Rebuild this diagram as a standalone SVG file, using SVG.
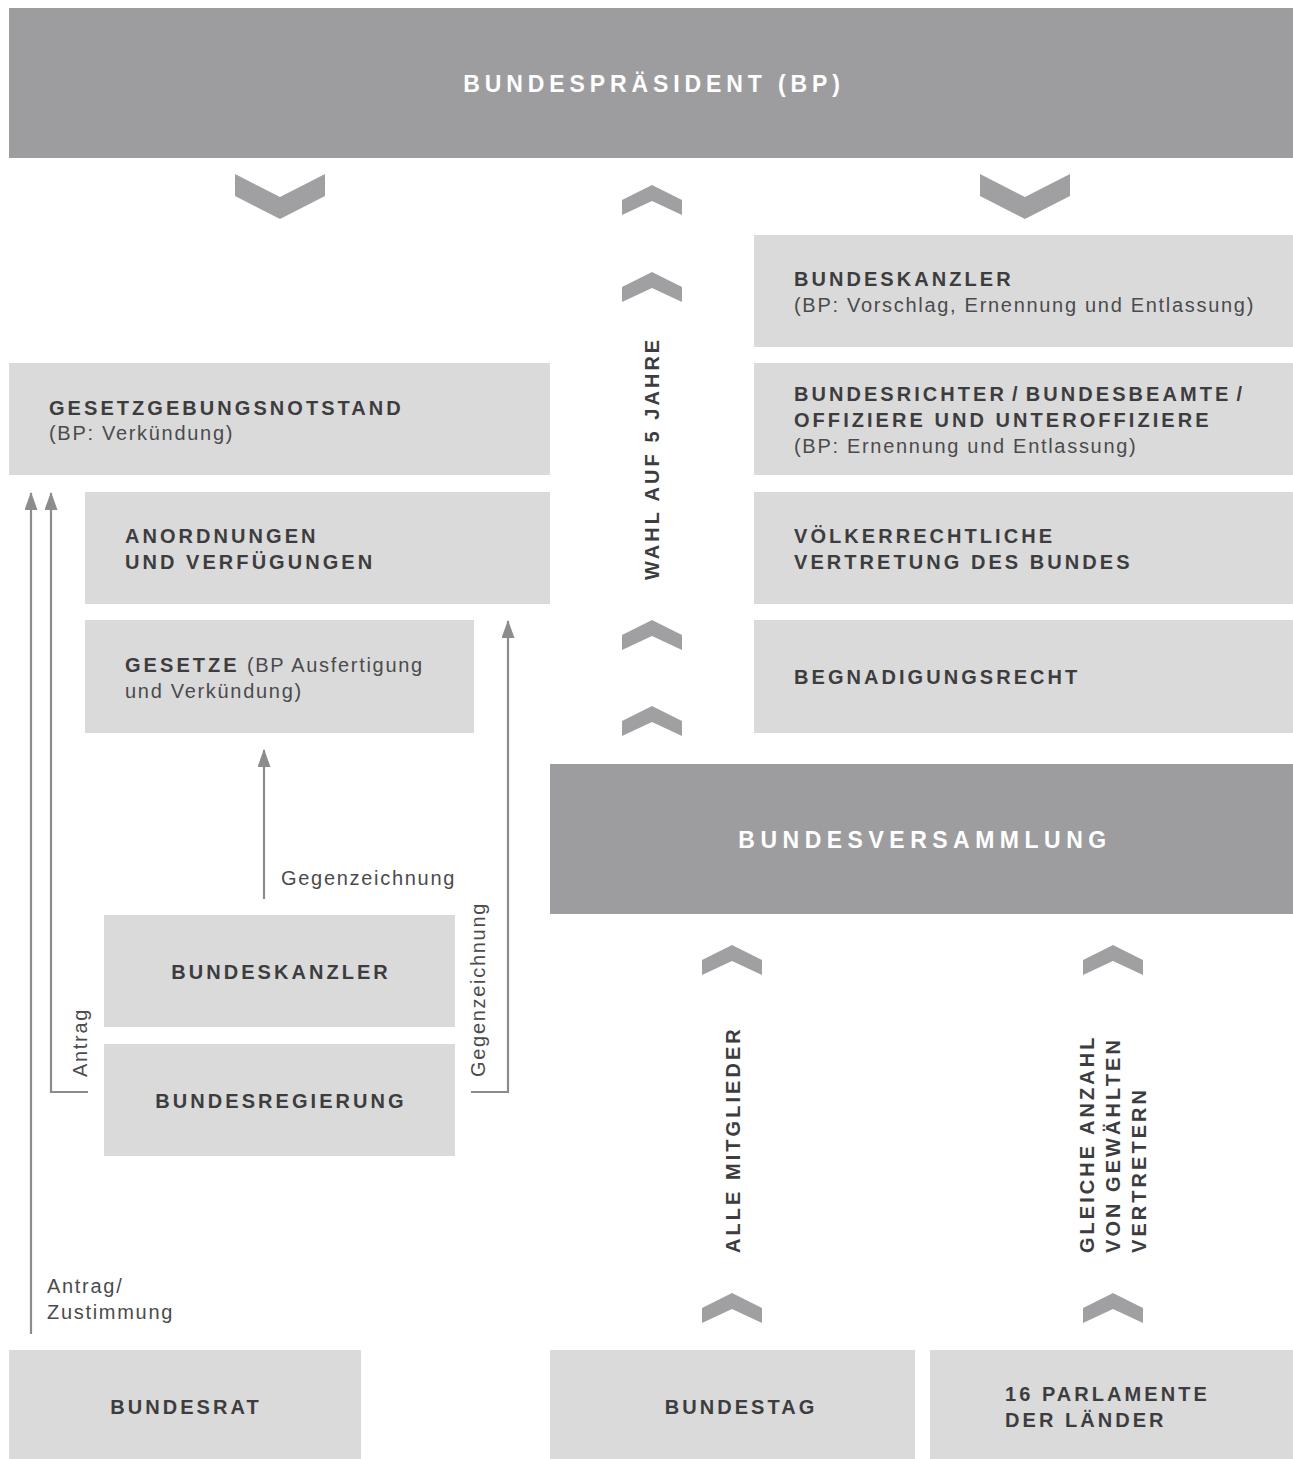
<svg xmlns="http://www.w3.org/2000/svg" xmlns:xlink="http://www.w3.org/1999/xlink" width="1293" height="1459" viewBox="0 0 1293 1459">
<style>
.light{fill:#dadadb}
.dark{fill:#9d9d9f}
.chev{fill:#a0a0a2}
.b{font-family:"Liberation Sans",Arial,sans-serif;font-weight:bold;font-size:20px;letter-spacing:3.05px;fill:#3d3d3f}
.r{font-family:"Liberation Sans",Arial,sans-serif;font-size:20px;letter-spacing:1.7px;fill:#4b4b4d}
.w{font-family:"Liberation Sans",Arial,sans-serif;font-weight:bold;font-size:23px;letter-spacing:4.9px;fill:#ffffff}
.c{text-anchor:middle}
.conn{fill:none;stroke:#8c8c8e;stroke-width:2.2}
</style>
<defs>
<marker id="ah" markerUnits="userSpaceOnUse" markerWidth="18" markerHeight="14" refX="17" refY="6.5" orient="auto">
<path d="M0,0 L18,6.5 L0,13 Z" fill="#8c8c8e"/>
</marker>
<path id="up" d="M0,15 L30,0 L60,15 L60,30 L30,16 L0,30 Z"/>
<path id="down" d="M0,0 L45,23 L90,0 L90,22 L45,45 L0,22 Z"/>
</defs>

<g id="bp"><rect class="dark" x="9" y="8" width="1284" height="150"/><text class="w c" x="654" y="92">BUNDESPRÄSIDENT (BP)</text></g>

<g id="chevrons" class="chev">
<use xlink:href="#down" x="235" y="174"/>
<use xlink:href="#down" x="980" y="174"/>
<use xlink:href="#up" x="622" y="185"/>
<use xlink:href="#up" x="622" y="272"/>
<use xlink:href="#up" x="622" y="620"/>
<use xlink:href="#up" x="622" y="706"/>
<use xlink:href="#up" x="702" y="945"/>
<use xlink:href="#up" x="1083" y="945"/>
<use xlink:href="#up" x="702" y="1293"/>
<use xlink:href="#up" x="1083" y="1293"/>
</g>

<g id="kanzler-r"><rect class="light" x="754" y="235" width="539" height="112"/>
<text class="b" x="794" y="286">BUNDESKANZLER</text>
<text class="r" x="794" y="312">(BP: Vorschlag, Ernennung und Entlassung)</text></g>

<g id="richter"><rect class="light" x="754" y="363" width="539" height="112"/>
<text class="b" x="794" y="401" word-spacing="-3.5">BUNDESRICHTER / BUNDESBEAMTE /</text>
<text class="b" x="794" y="427">OFFIZIERE UND UNTEROFFIZIERE</text>
<text class="r" x="794" y="453">(BP: Ernennung und Entlassung)</text></g>

<g id="voelker"><rect class="light" x="754" y="492" width="539" height="112"/>
<text class="b" x="794" y="543">VÖLKERRECHTLICHE</text>
<text class="b" x="794" y="569">VERTRETUNG DES BUNDES</text></g>

<g id="begnadigung"><rect class="light" x="754" y="620" width="539" height="113"/>
<text class="b" x="794" y="684">BEGNADIGUNGSRECHT</text></g>

<g id="notstand"><rect class="light" x="9" y="363" width="541" height="112"/>
<text class="b" x="49" y="415">GESETZGEBUNGSNOTSTAND</text>
<text class="r" x="49" y="440">(BP: Verkündung)</text></g>

<g id="anordnungen"><rect class="light" x="85" y="492" width="465" height="112"/>
<text class="b" x="125" y="543">ANORDNUNGEN</text>
<text class="b" x="125" y="569">UND VERFÜGUNGEN</text></g>

<g id="gesetze"><rect class="light" x="85" y="620" width="389" height="113"/>
<text x="125" y="672"><tspan class="b">GESETZE</tspan><tspan class="r"> (BP Ausfertigung</tspan></text>
<text class="r" x="125" y="698">und Verkündung)</text></g>

<g id="versammlung"><rect class="dark" x="550" y="764" width="743" height="150"/>
<text class="w c" x="925" y="848" style="letter-spacing:5.5px">BUNDESVERSAMMLUNG</text></g>

<g id="kanzler-l"><rect class="light" x="104" y="915" width="351" height="112"/>
<text class="b c" x="281" y="979">BUNDESKANZLER</text></g>

<g id="regierung"><rect class="light" x="104" y="1044" width="351" height="112"/>
<text class="b c" x="281" y="1108">BUNDESREGIERUNG</text></g>

<g id="bundesrat"><rect class="light" x="9" y="1350" width="352" height="109"/>
<text class="b c" x="186" y="1414">BUNDESRAT</text></g>

<g id="bundestag"><rect class="light" x="550" y="1350" width="365" height="109"/>
<text class="b c" x="741" y="1414">BUNDESTAG</text></g>

<g id="parlamente"><rect class="light" x="930" y="1350" width="363" height="109"/>
<text class="b" x="1005" y="1401">16 PARLAMENTE</text>
<text class="b" x="1005" y="1427">DER LÄNDER</text></g>

<g id="connectors">
<path class="conn" d="M31,1334 L31,493" marker-end="url(#ah)"/>
<path class="conn" d="M88,1092 L51,1092 L51,493" marker-end="url(#ah)"/>
<path class="conn" d="M471,1092 L508,1092 L508,621" marker-end="url(#ah)"/>
<path class="conn" d="M264,899 L264,750" marker-end="url(#ah)"/>
</g>

<g id="labels">
<text class="b" transform="translate(659,580) rotate(-90)">WAHL AUF 5 JAHRE</text>
<text class="b" transform="translate(740,1253) rotate(-90)">ALLE MITGLIEDER</text>
<text class="b" transform="translate(1094,1253) rotate(-90)">GLEICHE ANZAHL</text>
<text class="b" transform="translate(1120,1253) rotate(-90)">VON GEWÄHLTEN</text>
<text class="b" transform="translate(1146,1253) rotate(-90)">VERTRETERN</text>
<text class="r" x="281" y="885">Gegenzeichnung</text>
<text class="r" transform="translate(87,1077) rotate(-90)">Antrag</text>
<text class="r" transform="translate(485,1077) rotate(-90)">Gegenzeichnung</text>
<text class="r" x="47" y="1293">Antrag/</text>
<text class="r" x="47" y="1319">Zustimmung</text>
</g>
</svg>
